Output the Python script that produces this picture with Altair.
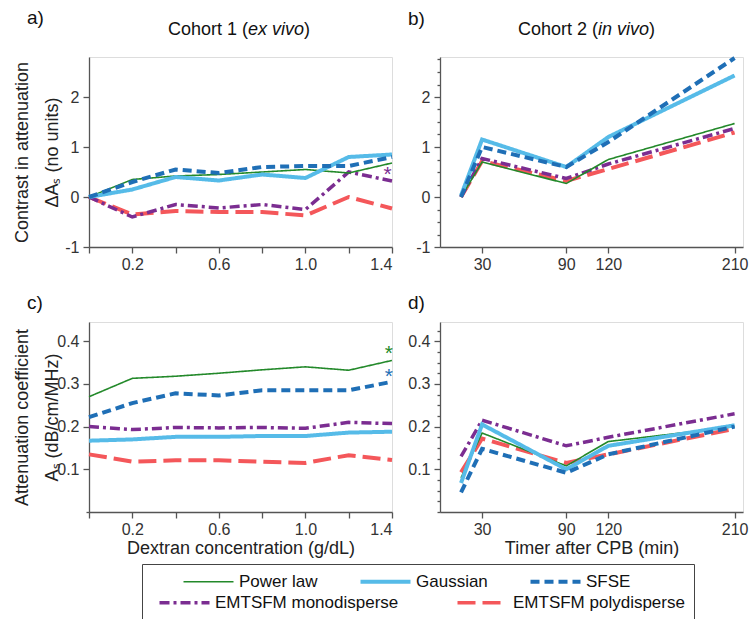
import altair as alt
import pandas as pd

FONT = "Liberation Sans"

series = ["Power law", "Gaussian", "SFSE", "EMTSFM monodisperse", "EMTSFM polydisperse"]
colors = ["#23892a", "#56bbe8", "#1f6fb6", "#7b2d91", "#f4575a"]
widths = [1.6, 4.0, 4.0, 3.5, 4.0]
dashes = [[1, 0], [1, 0], [9, 5], [10, 4, 3, 4], [18, 7]]

# Cohort 1 (ex vivo): dextran concentration (g/dL)
dextran = [0.0, 0.2, 0.4, 0.6, 0.8, 1.0, 1.2, 1.4]
a_power = [0.0, 0.35, 0.42, 0.45, 0.50, 0.55, 0.48, 0.68]
a_gauss = [0.0, 0.15, 0.40, 0.33, 0.45, 0.38, 0.80, 0.85]
a_sfse = [0.0, 0.30, 0.55, 0.48, 0.60, 0.62, 0.62, 0.80]
a_mono = [0.0, -0.40, -0.15, -0.22, -0.15, -0.25, 0.50, 0.32]
a_poly = [0.0, -0.35, -0.28, -0.30, -0.30, -0.37, 0.0, -0.23]

c_power = [0.270, 0.313, 0.318, 0.325, 0.333, 0.340, 0.332, 0.355]
c_gauss = [0.167, 0.170, 0.176, 0.176, 0.178, 0.178, 0.186, 0.188]
c_sfse = [0.222, 0.255, 0.278, 0.273, 0.285, 0.285, 0.285, 0.305]
c_mono = [0.200, 0.193, 0.198, 0.197, 0.198, 0.196, 0.210, 0.207]
c_poly = [0.135, 0.118, 0.121, 0.121, 0.118, 0.115, 0.133, 0.122]

# Cohort 2 (in vivo): time after CPB (min)
time_cpb = [15, 30, 90, 120, 210]
b_power = [0.0, 0.70, 0.27, 0.75, 1.47]
b_gauss = [0.03, 1.15, 0.60, 1.20, 2.43]
b_sfse = [0.0, 1.00, 0.60, 1.10, 2.78]
b_mono = [0.0, 0.77, 0.37, 0.66, 1.37]
b_poly = [0.0, 0.72, 0.32, 0.56, 1.29]

d_power = [0.080, 0.185, 0.108, 0.165, 0.200]
d_gauss = [0.068, 0.205, 0.100, 0.155, 0.203]
d_sfse = [0.046, 0.148, 0.092, 0.135, 0.200]
d_mono = [0.130, 0.215, 0.155, 0.175, 0.230]
d_poly = [0.093, 0.172, 0.115, 0.135, 0.195]

# significance markers (x, y, series)
star_a = [(1.38, 0.45, "EMTSFM monodisperse")]
star_c = [(1.385, 0.37, "Power law"), (1.385, 0.316, "SFSE")]

row1 = series[:3]
row2 = series[3:]
col = dict(zip(series, colors))
wid = dict(zip(series, widths))
dsh = dict(zip(series, dashes))


def long_df(xs, ys, keep):
    rows = []
    for s, vals in zip(series, ys):
        if s not in keep:
            continue
        for xv, yv in zip(xs, vals):
            rows.append({"x": xv, "y": yv, "series": s})
    return pd.DataFrame(rows)


legend_a = alt.Legend(
    title=None, orient="none", legendX=86, legendY=516, direction="horizontal",
    columnPadding=34, symbolType="M0,0H10", symbolSize=100,
    labelFontSize=17, labelFont=FONT, labelColor="#111", labelLimit=400, labelOffset=47,
    padding=0,
)
legend_b = alt.Legend(
    title="\u00a0" * 116, titleOrient="top", titleAnchor="start", titleFontSize=17,
    titlePadding=4, titleLimit=2000, titleFont=FONT,
    orient="none", legendX=53, legendY=507, direction="horizontal",
    columnPadding=50, symbolType="M0,0H10", symbolSize=100, symbolStrokeWidth=3.7,
    symbolDash=alt.ExprRef("datum.value == 'EMTSFM monodisperse' ? [10,4,3,4] : [18,7]"),
    labelFontSize=17, labelFont=FONT, labelColor="#111", labelLimit=400, labelOffset=47,
    strokeColor="#444", padding=9,
)

color_enc = alt.Color("series:N", scale=alt.Scale(domain=row1, range=colors[:3]), legend=legend_a)
dash_enc = alt.StrokeDash("series:N", scale=alt.Scale(domain=row1, range=dashes[:3]), legend=legend_a)
width_enc = alt.StrokeWidth("series:N", scale=alt.Scale(type="ordinal", domain=row1, range=widths[:3]), legend=legend_a)
stroke_enc = alt.Stroke("series:N", scale=alt.Scale(domain=row2, range=colors[3:]), legend=legend_b)

W, H = 303, 190


def text_layer(txt, x, y, size, style="normal", align="left"):
    return alt.Chart(pd.DataFrame({"t": [txt]})).mark_text(
        font=FONT, fontSize=size, fontStyle=style, align=align, baseline="alphabetic", color="#111"
    ).encode(text="t:N", x=alt.value(x), y=alt.value(y))


def panel(xs, ys, xscale, yscale, xaxis, yaxis, letter, letter_x, letter_y, title_parts, stars):
    layers = []
    for s in reversed(row2):
        layers.append(
            alt.Chart(long_df(xs, ys, [s])).mark_line(
                strokeCap="butt", strokeDash=dsh[s], strokeWidth=wid[s]
            ).encode(
                x=alt.X("x:Q", scale=xscale, axis=xaxis),
                y=alt.Y("y:Q", scale=yscale, axis=yaxis),
                stroke=stroke_enc,
            )
        )
    layers.append(
        alt.Chart(long_df(xs, ys, row1)).mark_line(strokeCap="butt").encode(
            x=alt.X("x:Q", scale=xscale, axis=xaxis),
            y=alt.Y("y:Q", scale=yscale, axis=yaxis),
            color=color_enc, strokeDash=dash_enc, strokeWidth=width_enc,
        )
    )
    for (sx, sy, ss) in stars:
        layers.append(
            alt.Chart(pd.DataFrame({"x": [sx], "y": [sy], "t": ["*"]})).mark_text(
                font=FONT, fontSize=21, color=col[ss], baseline="middle"
            ).encode(x="x:Q", y="y:Q", text="t:N")
        )
    layers.append(text_layer(letter, letter_x, letter_y, 19))
    for (txt, tx, style) in title_parts:
        layers.append(text_layer(txt, tx, -22, 18, style))
    return alt.layer(*layers).properties(width=W, height=H)


axis_style = dict(
    domainColor="#555", tickColor="#555", labelColor="#333", titleColor="#222",
    labelFont=FONT, titleFont=FONT, labelFontSize=16, titleFontSize=18,
    titleFontWeight="normal", grid=False, domainWidth=1.3, tickWidth=1.3,
)

x_dex_vals = [0.0, 0.2, 0.4, 0.6, 0.8, 1.0, 1.2, 1.4]
dex_label = "indexof(['0.2','0.6','1.0','1.4'], format(datum.value, '.1f')) >= 0 ? format(datum.value, '.1f') : ''"
x_time_vals = [30, 90, 120, 210]

ya_vals = [-1 + 0.25 * k for k in range(16)]
yc_vals = [round(0.025 * k, 3) for k in range(18)]


def dex_axis(title):
    kw = dict(values=x_dex_vals, labelExpr=dex_label, tickSize=6, labelPadding=3, **axis_style)
    if title:
        kw["title"] = title
        kw["titlePadding"] = 2
    else:
        kw["title"] = None
    return alt.Axis(**kw)


def time_axis(title):
    kw = dict(values=x_time_vals, format="d", tickSize=6, labelPadding=3, **axis_style)
    if title:
        kw["title"] = title
        kw["titlePadding"] = 2
    else:
        kw["title"] = None
    return alt.Axis(**kw)


def ya_axis(title):
    kw = dict(
        values=ya_vals,
        labelExpr="datum.value % 1 == 0 ? '' + datum.value : ''",
        tickSize={"condition": {"test": "datum.value % 1 == 0", "value": 6}, "value": 3},
        labelPadding=4, minExtent=28, maxExtent=28, **axis_style,
    )
    if title:
        kw["title"] = title
        kw["titlePadding"] = 0
        kw["titleLineHeight"] = 30
    else:
        kw["title"] = None
    return alt.Axis(**kw)


def yc_axis(title):
    test = "abs(datum.value * 10 - round(datum.value * 10)) < 0.001 && datum.value > 0.05"
    kw = dict(
        values=yc_vals,
        labelExpr="(" + test + ") ? format(datum.value, '.1f') : ''",
        tickSize={"condition": {"test": test, "value": 6}, "value": 3},
        labelPadding=4, minExtent=28, maxExtent=28, **axis_style,
    )
    if title:
        kw["title"] = title
        kw["titlePadding"] = 0
        kw["titleLineHeight"] = 30
    else:
        kw["title"] = None
    return alt.Axis(**kw)


xs_dex = alt.Scale(domain=[0, 1.4], nice=False, zero=False)
xs_time = alt.Scale(domain=[0, 216], nice=False, zero=False)
ys_contrast = alt.Scale(domain=[-1, 2.8], nice=False, zero=False)
ys_coef = alt.Scale(domain=[0, 0.445], nice=False, zero=False)

pa = panel(dextran, [a_power, a_gauss, a_sfse, a_mono, a_poly], xs_dex, ys_contrast,
           dex_axis(None), ya_axis(["Contrast in attenuation", "\u0394A\u209b (no units)"]),
           "a)", -62, -33,
           [("Cohort 1 (", 79, "normal"), ("ex vivo", 159, "italic"), (")", 215, "normal")], star_a)
pb = panel(time_cpb, [b_power, b_gauss, b_sfse, b_mono, b_poly], xs_time, ys_contrast,
           time_axis(None), ya_axis(None),
           "b)", -32, -32,
           [("Cohort 2 (", 78, "normal"), ("in vivo", 158, "italic"), (")", 209, "normal")], [])
pc = panel(dextran, [c_power, c_gauss, c_sfse, c_mono, c_poly], xs_dex, ys_coef,
           dex_axis("Dextran concentration (g/dL)"),
           yc_axis(["Attenuation coefficient", "A\u209b (dB/cm/MHz)"]),
           "c)", -62, -13, [], star_c)
pd_ = panel(time_cpb, [d_power, d_gauss, d_sfse, d_mono, d_poly], xs_time, ys_coef,
            time_axis("Timer after CPB (min)"), yc_axis(None),
            "d)", -32, -13, [], [])

top_row = alt.hconcat(pa, pb, spacing=6)
bottom_row = alt.hconcat(pc, pd_, spacing=6)

chart = alt.vconcat(top_row, bottom_row, spacing=20).properties(
    padding={"left": 12, "top": 8, "right": 0, "bottom": 0}
).configure_view(stroke=None).configure(font=FONT, background="white")

chart.save("out.html", embed_options={"renderer": "svg", "actions": False})
